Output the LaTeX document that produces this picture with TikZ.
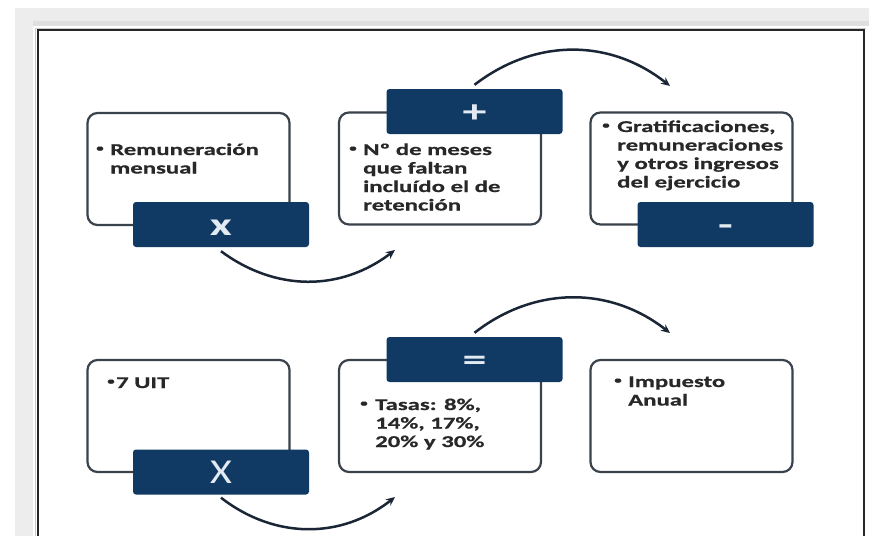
\documentclass[tikz,border=0pt]{standalone}
\usepackage{fontspec}
\setmainfont{Carlito}[FakeStretch=1.5]
\newfontfamily\labelfont{Carlito Bold}[FakeStretch=1.5,FakeBold=0.6]
\newfontfamily\symfont{Carlito}[FakeStretch=1.5]
\newfontfamily\plainfont{Carlito}
\usetikzlibrary{arrows.meta}

\definecolor{navy}{RGB}{16,58,100}
\definecolor{boxline}{RGB}{58,66,76}
\definecolor{txt}{RGB}{40,40,40}
\definecolor{arcc}{RGB}{26,38,54}
\definecolor{tabtxt}{RGB}{226,234,242}

\begin{document}
\begin{tikzpicture}[x=1pt,y=-1pt,
  card/.style={draw=boxline, line width=2.2pt, rounded corners=10pt, fill=white,
    minimum width=202pt, minimum height=112pt, inner sep=0pt},
  tab/.style={fill=navy, rounded corners=3pt, minimum width=176pt,
    minimum height=45pt, inner sep=0pt, text=tabtxt,
    text height=22pt, text depth=0pt,
    font=\symfont\bfseries\fontsize{32}{32}\selectfont},
  label/.style={anchor=base west, inner sep=0pt, text=txt,
    font=\labelfont\fontsize{16.5}{18.5}\selectfont},
  dot/.style={inner sep=0pt, text=txt, font=\labelfont\fontsize{10}{10}\selectfont},
  flow/.style={draw=arcc, line width=2.5pt, -{Stealth[length=9pt,width=8pt]}}
]
\useasboundingbox (0,0) rectangle (869,536);
\fill[white] (0,0) rectangle (869,536);

% page edge and frame
\fill[gray!15] (15,8) rectangle (869,26);
\fill[gray!25] (15,21) rectangle (869,26);
\fill[gray!14] (15,8) rectangle (33,536);
\draw[gray!40, line width=0.8pt] (35,536) -- (35,28) -- (866,28);
\draw[black!85, line width=2pt] (38,536) -- (38,30) -- (864,30) -- (864,536);

% cards
\node[card] (c1) at (188.5,169) {};
\node[card] (c2) at (440,168.5) {};
\node[card] (c3) at (691.5,168.5) {};
\node[card] (c4) at (188.5,416) {};
\node[card] (c5) at (440,416) {};
\node[card] (c6) at (691.5,416) {};

% card texts
\node[dot] (d1) at (100,149) {•};
\node[label] (t1) at (110,155) {\begin{tabular}[t]{@{}l@{}}Remuneración\\mensual\end{tabular}};
\node[dot] (d2) at (353,149) {•};
\node[label] (t2) at (363,155) {\begin{tabular}[t]{@{}l@{}}Nº de meses\\que faltan\\incluído el de\\retención\end{tabular}};
\node[dot] (d3) at (606,126) {•};
\node[label] (t3) at (617,132) {\begin{tabular}[t]{@{}l@{}}Gratificaciones,\\remuneraciones\\y otros ingresos\\del ejercicio\end{tabular}};
\node[dot] (d4) at (111,382) {•};
\node[label] (t4) at (116,388) {7 UIT};
\node[dot] (d5) at (364,404) {•};
\node[label] (t5) at (375,410) {\begin{tabular}[t]{@{}l@{}}Tasas: 8\%,\\14\%, 17\%,\\20\% y 30\%\end{tabular}};
\node[dot] (d6) at (618,381) {•};
\node[label] (t6) at (628,387) {\begin{tabular}[t]{@{}l@{}}Impuesto\\Anual\end{tabular}};

% operator tabs
\node[tab] (o1) at (221,224.5) {x};
\node[tab] (o2) at (474.5,111.5) {+};
\node[tab] (o3) at (725.5,224.5) {-};
\node[tab, font=\plainfont\fontsize{35}{35}\selectfont] (o4) at (221,472) {\scalebox{1.2}[1]{X}};
\node[tab] (o5) at (474.5,359.5) {=};

% connectors
\coordinate (e1) at (395,250);
\coordinate (e2) at (670,86);
\coordinate (e4) at (395,497);
\coordinate (e5) at (670,333);
\draw[flow] ([yshift=-4pt]o1.south) to[bend right=37] (e1);
\draw[flow] ([yshift=4pt]o2.north) to[bend left=38] (e2);
\draw[flow] ([yshift=-3pt]o4.south) to[bend right=38] (e4);
\draw[flow] ([yshift=4pt]o5.north) to[bend left=38] (e5);
\end{tikzpicture}
\end{document}
